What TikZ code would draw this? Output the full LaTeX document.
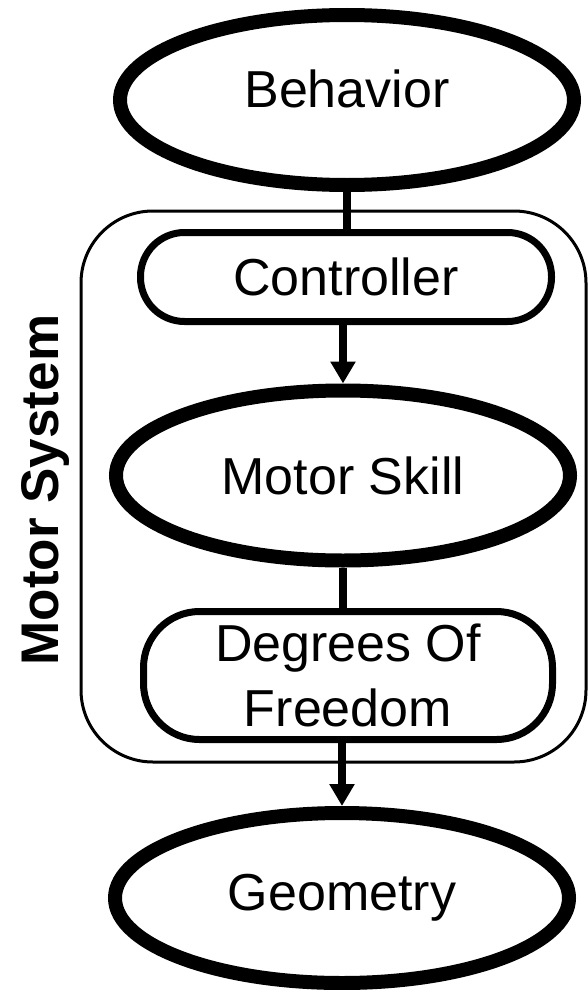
\documentclass[tikz,border=0pt]{standalone}
\usepackage{fontspec}
\setmainfont{Liberation Sans}
\usetikzlibrary{shapes.geometric,arrows.meta}
\tikzset{
  lbl/.style={font=\fontsize{52}{65}\selectfont, align=center, inner sep=0pt},
  oval/.style={lbl, ellipse, draw, line width=14pt, fill=white, minimum width=454pt, minimum height=170pt},
  pill/.style={lbl, rectangle, draw, line width=7pt, fill=white, rounded corners=44pt},
  group/.style={rectangle, draw, line width=3pt, rounded corners=72pt, inner sep=0pt},
  link/.style={line width=8pt},
  flow/.style={line width=8pt, -{Triangle[width=24pt,length=22pt]}},
}
\begin{document}
\begin{tikzpicture}[x=1pt,y=-1pt]
\useasboundingbox (0,0) rectangle (588,990);
\fill[white] (0,0) rectangle (588,990);
\node[group, minimum width=505pt, minimum height=551pt] (motorsys) at (333.5,486.5) {};
\node[oval, text depth=22pt] (behavior) at (347,100) {Behavior};
\node[pill, minimum width=411pt, minimum height=89pt] (controller) at (346,277) {Controller};
\node[oval] (skill) at (343,475.5) {Motor Skill};
\node[pill, minimum width=409pt, minimum height=128pt, rounded corners=56pt] (dof) at (348,675.5) {Degrees Of\\Freedom};
\node[oval] (geometry) at (342,898) {Geometry};
\node[font=\fontsize{53}{60}\selectfont\bfseries, rotate=90, inner sep=0pt] (label) at (45,490) {Motor System};
\draw[link] (behavior.south) -- (behavior.south |- controller.north);
\draw[flow] (controller.south -| skill.north) -- (skill.north);
\draw[link] (skill.south) -- (skill.south |- dof.north);
\draw[flow] (dof.south -| geometry.north) -- (geometry.north);
\end{tikzpicture}
\end{document}
